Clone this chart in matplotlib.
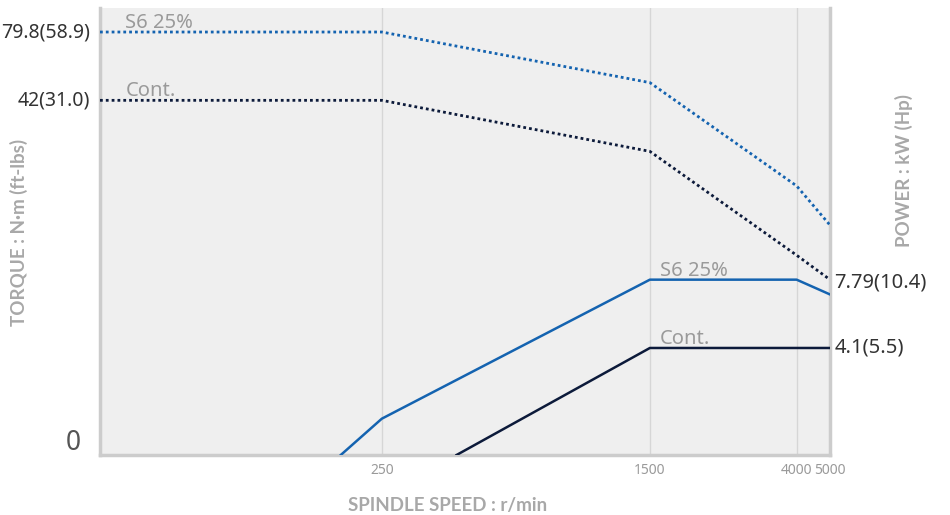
import matplotlib.pyplot as plt

plt.rcParams['font.family'] = ['Noto Sans', 'DejaVu Sans']

# torque curves (N·m) vs spindle speed (r/min)
s6_torque_speed = [38, 250, 1500, 4000, 5000]
s6_torque = [79.8, 79.8, 49.6, 18.8, 13.0]
cont_torque_speed = [38, 250, 1500, 4000, 5000]
cont_torque = [42, 42, 26.0, 9.8, 7.79]

# power curves (kW) vs spindle speed (r/min)
s6_power_speed = [190, 250, 1500, 4000, 5000]
s6_power = [1.5, 2.11, 7.79, 7.79, 6.78]
cont_power_speed = [412, 1500, 5000]
cont_power = [1.5, 4.1, 4.1]

speed_ticks = [250, 1500, 4000, 5000]
grid_speeds = [250, 1500, 4000]

blue = "#1463b0"
navy = "#0c1a3a"
label_gray = "#9a9a9a"
title_font = ['Lato', 'DejaVu Sans']

fig = plt.figure(figsize=(9.5, 5.15), dpi=100)
ax = fig.add_axes([100 / 950, 1 - 455 / 515, 730 / 950, 447 / 515])
ax.set_facecolor("#efefef")
ax.set_xscale("log")
ax.set_yscale("log")
ax.set_xlim(38, 5000)
ax.set_ylim(1.5, 100)

for s in grid_speeds:
    ax.axvline(s, color="#d6d6d6", lw=1, zorder=1)

dots = (0, (1, 1.1))
ax.plot(s6_torque_speed, s6_torque, color=blue, lw=2, ls=dots, zorder=3)
ax.plot(cont_torque_speed, cont_torque, color=navy, lw=2, ls=dots, zorder=3)
ax.plot(s6_power_speed, s6_power, color=blue, lw=1.8, zorder=3)
ax.plot(cont_power_speed, cont_power, color=navy, lw=1.8, zorder=3)

# curve names
ax.text(45, s6_torque[0] * 0.99, "S6 25%", color=label_gray, fontsize=14.5, va="bottom")
ax.text(45, cont_torque[0] * 0.99, "Cont.", color=label_gray, fontsize=14.5, va="bottom")
ax.text(1600, s6_power[2] * 0.99, "S6 25%", color=label_gray, fontsize=14.5, va="bottom")
ax.text(1600, cont_power[1] * 0.99, "Cont.", color=label_gray, fontsize=14.5, va="bottom")

# value labels
ax.text(35.5, s6_torque[0], "79.8(58.9)", color="#333333", fontsize=14, ha="right", va="center")
ax.text(35.5, cont_torque[0], "42(31.0)", color="#333333", fontsize=14, ha="right", va="center")
ax.text(5150, s6_power[2] * 0.97, "7.79(10.4)", color="#333333", fontsize=14.5, ha="left", va="center")
ax.text(5150, cont_power[2], "4.1(5.5)", color="#333333", fontsize=14.5, ha="left", va="center")
ax.text(33.5, 1.68, "0", color="#555555", fontsize=19, ha="right", va="center")

ax.set_xticks(speed_ticks)
ax.set_xticklabels([str(s) for s in speed_ticks])
ax.minorticks_off()
ax.tick_params(axis="x", length=0, labelsize=10, labelcolor=label_gray, pad=6)
ax.set_yticks([])
ax.tick_params(axis="y", which="both", length=0)

for side in ["left", "bottom", "right"]:
    ax.spines[side].set_color("#cccccc")
    ax.spines[side].set_linewidth(2.5)
ax.spines["top"].set_visible(False)

fig.text(448 / 950, 1 - 505 / 515, "SPINDLE SPEED : r/min", color="#a8a8a8",
         fontsize=13.5, fontweight="bold", family=title_font, ha="center", va="center")
fig.text(19 / 950, 1 - 232 / 515, "TORQUE : N·m (ft-lbs)", color="#a8a8a8",
         fontsize=13.5, fontweight="bold", family=title_font, ha="center", va="center", rotation=90)
fig.text(904 / 950, 1 - 171 / 515, "POWER : kW (Hp)", color="#a8a8a8",
         fontsize=13.5, fontweight="bold", family=title_font, ha="center", va="center", rotation=90)

fig.savefig("out.png", dpi=100)
